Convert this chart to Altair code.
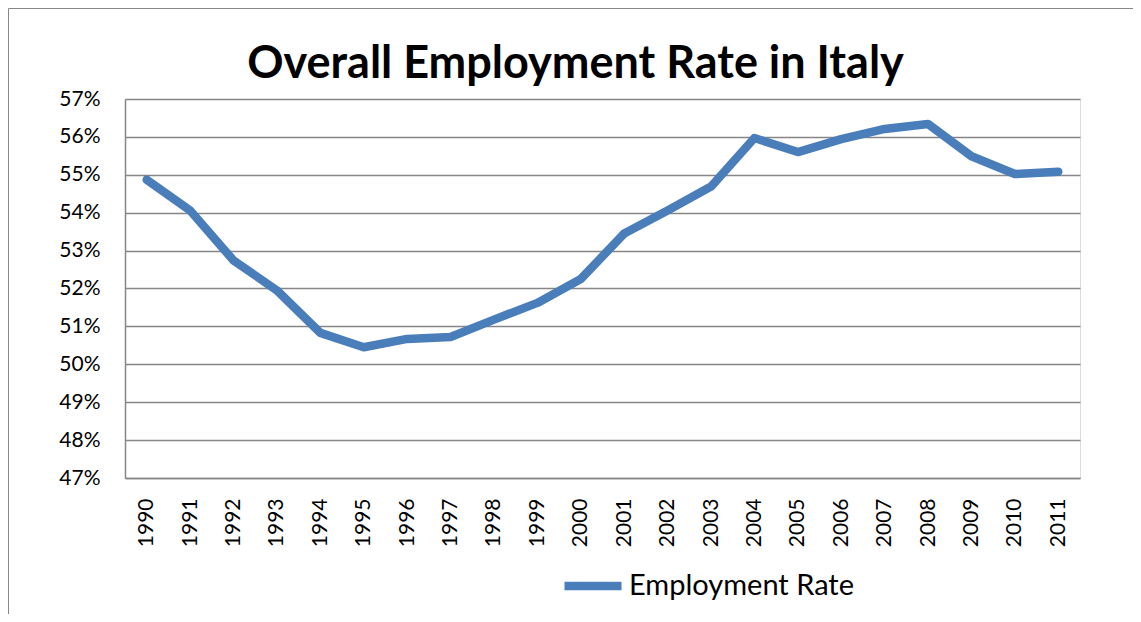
import altair as alt
import pandas as pd

years = ["1990", "1991", "1992", "1993", "1994", "1995", "1996", "1997", "1998", "1999",
         "2000", "2001", "2002", "2003", "2004", "2005", "2006", "2007", "2008", "2009",
         "2010", "2011"]
rates = [54.87, 54.06, 52.74, 51.95, 50.83, 50.45, 50.67, 50.72, 51.18, 51.62,
         52.25, 53.45, 54.06, 54.69, 55.97, 55.60, 55.94, 56.21, 56.34, 55.49,
         55.02, 55.08]
series_name = "Employment Rate"
y_ticks = [0.47, 0.48, 0.49, 0.50, 0.51, 0.52, 0.53, 0.54, 0.55, 0.56, 0.57]

df = pd.DataFrame({
    "Year": years,
    "Rate": [r / 100 for r in rates],
    "Series": [series_name] * len(years),
})

FONT = "Lato"
GRID = "#868686"

line = alt.Chart(df).mark_line(
    strokeWidth=8.5, strokeCap="round", strokeJoin="round"
).encode(
    x=alt.X("Year:O", sort=years,
            scale=alt.Scale(type="point", padding=0.5),
            axis=alt.Axis(title=None, labelAngle=-90, ticks=False, labelPadding=20,
                          labelFontSize=21, labelFont=FONT, labelColor="#000000",
                          domainColor=GRID, domainWidth=1.5, grid=False)),
    y=alt.Y("Rate:Q",
            scale=alt.Scale(domain=[0.47, 0.57], nice=False, zero=False),
            axis=alt.Axis(title=None, format=".0%", values=y_ticks, ticks=False,
                          labelPadding=25, labelFontSize=21, labelFont=FONT,
                          labelColor="#000000", domainColor=GRID, domainWidth=1.5,
                          grid=True, gridColor=GRID, gridWidth=1.5)),
    color=alt.Color("Series:N",
                    scale=alt.Scale(domain=[series_name], range=["#4a7ebb"]),
                    legend=alt.Legend(title=None, orient="none", legendX=435, legendY=454,
                                      symbolType="stroke", symbolSize=3249,
                                      symbolStrokeWidth=8.5, labelFontSize=29,
                                      labelFont=FONT, labelColor="#000000",
                                      labelLimit=500, labelOffset=3, padding=0)),
)

border = alt.Chart(pd.DataFrame({"b": [0]})).mark_rect(
    fillOpacity=0, stroke="#888888", strokeWidth=1
).encode(
    x=alt.value(-116.5), x2=alt.value(1200),
    y=alt.value(-90.5), y2=alt.value(700),
)

chart = alt.layer(border, line).properties(
    width=955, height=379,
    autosize=alt.AutoSizeParams(type="none"),
    padding={"left": 117, "top": 91, "right": 53, "bottom": 136},
    title=alt.TitleParams("Overall Employment Rate in Italy", font=FONT, fontSize=45,
                          fontWeight="bold", color="#000000", anchor="middle",
                          frame="group", dx=-27, dy=91, offset=12),
).configure_view(stroke=None).configure(background="white")

chart.save("out.html", embed_options={"renderer": "svg", "actions": False})
